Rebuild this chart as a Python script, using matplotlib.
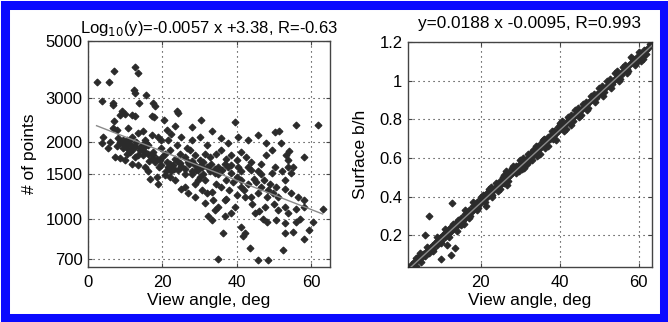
import matplotlib
matplotlib.use("Agg")
import matplotlib.pyplot as plt
from matplotlib.patches import Rectangle
import numpy as np

plt.rcParams["font.family"] = ["Liberation Sans", "DejaVu Sans"]

# linke Grafik: Anzahl Punkte vs. Blickwinkel (log-Achse)
points_pairs = [
    (2.3, 3460), (3.8, 2920), (5.7, 3440), (7.0, 3820), (6.6, 2860), (6.6, 2800),
    (12.6, 3960), (13.5, 3730), (12.4, 3215), (12.6, 3130), (15.5, 3080), (13.8, 2850),
    (17.5, 2850), (18.0, 2770), (9.0, 2650), (8.6, 2560), (9.9, 2580), (11.9, 2560),
    (12.6, 2540), (17.1, 2540), (17.8, 2525), (23.8, 2660), (24.2, 2600), (20.4, 2460),
    (7.1, 2420), (6.8, 2290), (7.7, 2240), (10.8, 2290), (30.4, 2460), (27.8, 2310),
    (39.4, 2400), (33.2, 2210), (23.4, 2330), (4.1, 2110), (3.7, 1990), (8.1, 2090),
    (9.0, 1990), (10.4, 2050), (11.7, 2110), (13.5, 2170), (14.8, 2220), (17.1, 2140),
    (18.9, 2110), (21.1, 2240), (22.4, 2160), (25.1, 2110), (27.8, 2050), (30.0, 2110),
    (35.8, 2080), (37.6, 1990), (40.3, 2110), (43.0, 2050), (45.6, 2140), (50.1, 2200),
    (51.4, 2220), (56.0, 2340), (61.7, 2340), (47.9, 1990), (51.9, 1990), (54.1, 1860),
    (58.1, 1760), (53.2, 1790), (53.7, 1710), (50.1, 1600), (53.7, 1600), (55.0, 1600),
    (7.2, 1760), (8.6, 1735), (7.7, 1930), (9.5, 1900), (11.3, 1840), (12.6, 1930),
    (14.1, 1870), (15.3, 1930), (16.2, 1810), (17.5, 1840), (18.4, 1730), (19.7, 1900),
    (20.6, 1810), (22.0, 1870), (23.4, 1730), (24.6, 1810), (26.0, 1760), (27.3, 1870),
    (28.7, 1790), (30.0, 1710), (31.3, 1810), (32.7, 1760), (34.5, 1810), (35.8, 1870),
    (37.1, 1730), (38.5, 1790), (41.2, 1840), (42.5, 1760), (43.8, 1680), (43.0, 1600),
    (45.6, 1540), (46.5, 1500), (47.4, 1425), (48.8, 1380), (50.5, 1340), (52.8, 1320),
    (54.6, 1265), (56.3, 1225), (58.1, 1190), (63.0, 1100), (58.1, 1120), (52.8, 1120),
    (48.0, 1225), (45.6, 1265), (43.8, 1225), (42.1, 1225), (41.2, 1340), (43.0, 1380),
    (39.9, 1470), (41.2, 1425), (38.5, 1513), (37.1, 1425), (35.8, 1340), (34.5, 1380),
    (33.2, 1285), (31.9, 1264), (33.6, 1190), (34.9, 1120), (34.0, 1090), (32.2, 1030),
    (33.2, 995), (36.7, 1030), (38.5, 1055), (39.4, 1120), (41.2, 935), (42.1, 880),
    (41.6, 860), (36.3, 885), (35.0, 700), (43.5, 770), (45.7, 692), (48.3, 692),
    (44.8, 1055), (48.0, 975), (50.5, 990), (52.8, 965), (52.8, 885), (52.4, 755),
    (55.1, 890), (56.0, 975), (58.1, 840), (59.4, 905), (60.5, 975), (53.7, 1055),
    (51.1, 1090), (47.5, 1120), (36.8, 1190), (31.4, 1160), (30.5, 1300), (28.7, 1225),
    (26.9, 1265), (26.0, 1340), (25.1, 1320), (23.4, 1425), (22.0, 1470), (20.7, 1490),
    (18.9, 1380), (16.6, 1445), (18.4, 1470), (16.2, 1540), (15.3, 1607), (13.5, 1630),
    (11.7, 1650), (9.9, 1710), (18.0, 1680), (19.7, 1630), (21.5, 1607), (22.4, 1540),
    (24.2, 1560), (26.0, 1580), (27.8, 1540), (29.6, 1560), (31.0, 1500), (29.6, 1425),
    (28.7, 1380), (27.8, 1500), (30.0, 1470), (31.4, 1425), (32.7, 1540), (34.0, 1513),
    (34.9, 1607), (36.8, 1650), (38.5, 1630), (39.9, 1710), (40.3, 1607), (43.8, 1560),
    (44.7, 1445), (46.5, 1340), (48.3, 1300), (49.6, 1264), (51.0, 1225), (52.8, 1425),
    (54.6, 1513), (52.0, 1540), (49.3, 1513), (46.5, 1650), (47.9, 1790), (49.3, 1870),
    (21.5, 2050), (19.7, 2050), (15.3, 2050), (15.7, 1990), (14.4, 1960), (10.8, 1990),
    (11.7, 1930), (10.4, 1900), (13.5, 1790), (14.8, 1790), (17.1, 1735), (19.3, 1707),
    (21.1, 1680), (22.9, 1630), (24.6, 1655), (26.9, 1680), (28.7, 1630), (30.5, 1607),
    (8.5, 2000), (9.5, 2050), (10.0, 1950), (11.0, 2020), (12.0, 1880), (13.0, 2000),
    (14.0, 1900), (15.0, 1850), (16.0, 1950), (16.5, 1700), (17.5, 1780), (19.0, 1600),
    (20.0, 1750), (21.0, 1550), (22.0, 1650), (23.0, 1580), (24.0, 1700), (25.0, 1620),
    (26.0, 1500), (27.0, 1650), (28.0, 1700), (29.0, 1560), (30.0, 1620), (31.0, 1680),
    (32.0, 1600), (33.0, 1650), (34.0, 1580), (35.0, 1500), (36.0, 1560), (37.5, 1600),
    (12.5, 1750), (10.5, 1800), (6.0, 2000), (5.5, 1900), (24.0, 1950), (26.5, 1900),
    (32.0, 1950), (38.0, 1300), (40.0, 1250), (42.0, 1300), (44.0, 1150), (46.0, 1080),
    (47.0, 1000), (50.0, 1150), (56.0, 1100), (57.0, 1000), (37.0, 1200), (39.0, 1400),
    (45.0, 1400), (41.0, 1550),
]
angle_left = [p[0] for p in points_pairs]
n_points = [p[1] for p in points_pairs]

# Fit links: log10(y) = a*x + b
fit_left_a = -0.0057
fit_left_b = 3.38

# rechte Grafik: Oberflaeche b/h vs. Blickwinkel
surface_pairs = [
    (1.6, 0.035), (2.5, 0.05), (3.0, 0.06), (4.0, 0.07), (4.5, 0.09), (5.0, 0.08),
    (5.5, 0.10), (6.0, 0.11), (6.5, 0.12), (7.0, 0.11), (7.5, 0.14), (8.0, 0.15),
    (8.0, 0.13), (8.5, 0.16), (9.0, 0.15), (9.0, 0.17), (9.5, 0.18), (10.0, 0.17),
    (10.0, 0.19), (10.5, 0.20), (11.0, 0.19), (11.0, 0.21), (11.5, 0.22), (12.0, 0.21),
    (12.0, 0.23), (12.5, 0.22), (12.5, 0.24), (13.0, 0.23), (13.0, 0.25), (13.5, 0.24),
    (14.0, 0.25), (14.0, 0.27), (14.5, 0.26), (15.0, 0.27), (15.0, 0.29), (15.5, 0.28),
    (16.0, 0.29), (16.0, 0.31), (16.5, 0.30), (17.0, 0.31), (17.0, 0.33), (17.5, 0.32),
    (18.0, 0.33), (18.0, 0.35), (18.5, 0.34), (19.0, 0.35), (19.0, 0.37), (19.5, 0.36),
    (20.0, 0.37), (20.0, 0.39), (20.5, 0.38), (21.0, 0.39), (21.0, 0.41), (21.5, 0.40),
    (22.0, 0.41), (22.0, 0.43), (22.5, 0.42), (23.0, 0.43), (23.0, 0.44), (23.5, 0.44),
    (24.0, 0.45), (24.5, 0.46), (25.0, 0.46), (25.0, 0.48), (25.5, 0.47), (26.0, 0.49),
    (26.0, 0.47), (26.5, 0.50), (27.0, 0.50), (27.0, 0.52), (27.5, 0.51), (28.0, 0.52),
    (28.0, 0.54), (28.5, 0.53), (29.0, 0.54), (29.0, 0.56), (29.5, 0.55), (30.0, 0.56),
    (30.0, 0.57), (30.5, 0.57), (31.0, 0.58), (31.0, 0.56), (31.5, 0.59), (32.0, 0.60),
    (32.0, 0.58), (32.5, 0.61), (33.0, 0.61), (33.0, 0.63), (33.5, 0.62), (34.0, 0.63),
    (34.5, 0.64), (34.5, 0.66), (35.0, 0.65), (35.5, 0.66), (35.5, 0.68), (36.0, 0.67),
    (36.5, 0.68), (37.0, 0.69), (37.0, 0.71), (37.5, 0.70), (38.0, 0.71), (38.5, 0.72),
    (38.5, 0.74), (39.0, 0.73), (39.5, 0.74), (40.0, 0.75), (40.0, 0.77), (40.5, 0.76),
    (41.0, 0.77), (41.5, 0.78), (42.0, 0.79), (42.5, 0.80), (43.0, 0.80), (43.5, 0.81),
    (44.0, 0.82), (44.5, 0.83), (45.0, 0.84), (45.5, 0.85), (46.0, 0.86), (46.5, 0.87),
    (47.0, 0.88), (47.5, 0.89), (48.0, 0.90), (48.5, 0.91), (49.0, 0.92), (49.5, 0.93),
    (50.0, 0.93), (50.5, 0.94), (51.0, 0.96), (51.5, 0.96), (52.0, 0.97), (52.5, 0.98),
    (53.0, 0.99), (53.5, 1.00), (54.0, 1.01), (54.5, 1.02), (55.0, 1.03), (55.5, 1.03),
    (56.0, 1.05), (57.0, 1.06), (57.5, 1.08), (58.0, 1.09), (58.5, 1.10), (59.0, 1.10),
    (59.5, 1.12), (60.0, 1.12), (60.5, 1.14), (61.0, 1.13), (62.0, 1.16), (63.4, 1.20),
    # Streuung um die Gerade
    (15.0, 0.25), (16.0, 0.33), (17.0, 0.29), (18.0, 0.37), (19.0, 0.33), (20.0, 0.40),
    (21.0, 0.37), (22.0, 0.44), (23.0, 0.41), (24.0, 0.47), (25.0, 0.44), (26.0, 0.51),
    (27.0, 0.48), (28.0, 0.55), (29.0, 0.52), (30.0, 0.59), (31.0, 0.55), (32.0, 0.62),
    (33.0, 0.59), (34.0, 0.66), (35.0, 0.62), (36.0, 0.70), (37.0, 0.66), (38.0, 0.74),
    (39.0, 0.69), (40.0, 0.78), (41.0, 0.74), (42.0, 0.81), (43.0, 0.77), (44.0, 0.85),
    (45.0, 0.81), (46.0, 0.88), (47.0, 0.85), (48.0, 0.92), (49.0, 0.89), (50.0, 0.96),
    (51.0, 0.92), (52.0, 1.00), (53.0, 0.96), (54.0, 1.04), (55.0, 1.00), (56.0, 1.07),
    (57.0, 1.04), (58.0, 1.12), (59.0, 1.08), (60.0, 1.15), (61.0, 1.11), (62.0, 1.14),
    (60.5, 1.10), (3.5, 0.04), (5.0, 0.06), (6.0, 0.09), (7.0, 0.13), (8.0, 0.12),
    (9.0, 0.19), (10.0, 0.16), (11.0, 0.23), (12.0, 0.19), (13.0, 0.26), (14.0, 0.22),
    (20.5, 0.41), (22.5, 0.45), (26.5, 0.53), (30.5, 0.54),
    (14.3, 0.28), (15.7, 0.26), (17.2, 0.30), (18.7, 0.36), (19.4, 0.34), (21.6, 0.42),
    (22.8, 0.40), (24.3, 0.43), (25.7, 0.50), (26.8, 0.46), (28.3, 0.56), (29.7, 0.53),
    (30.8, 0.60), (31.7, 0.57), (33.2, 0.64), (34.3, 0.61), (35.7, 0.69), (36.4, 0.65),
    (37.8, 0.72), (38.3, 0.70), (39.6, 0.76), (40.7, 0.79), (41.7, 0.75), (42.8, 0.82),
    (43.4, 0.79), (44.7, 0.86), (45.3, 0.82), (46.8, 0.89), (47.3, 0.86), (48.7, 0.93),
    (49.3, 0.91), (50.7, 0.97), (51.3, 0.94), (52.7, 1.01), (53.3, 0.98), (54.6, 1.05),
    (55.3, 1.01), (56.6, 1.08), (57.3, 1.05), (58.6, 1.11), (59.3, 1.09), (61.5, 1.16),
    (62.5, 1.17), (63.0, 1.19),
    # Ausreisser
    (7.0, 0.297), (5.9, 0.202), (9.4, 0.176), (11.5, 0.150), (13.6, 0.132), (12.4, 0.098),
    (9.9, 0.075), (12.8, 0.367), (21.3, 0.349), (6.5, 0.141), (3.5, 0.080), (4.7, 0.106),
]
angle_right = [p[0] for p in surface_pairs]
surface_bh = [p[1] for p in surface_pairs]

# Fit rechts: y = a*x + b
fit_right_a = 0.0188
fit_right_b = -0.0095

left_yticks = [700, 1000, 1500, 2000, 3000, 5000]
right_yticks = [0.2, 0.4, 0.6, 0.8, 1.0, 1.2]
right_yticklabels = ["0.2", "0.4", "0.6", "0.8", "1", "1.2"]

marker_color = "#2b2b2b"
line_color = "#8a8a8a"

fig = plt.figure(figsize=(6.68, 3.22), dpi=100)

ax1 = fig.add_axes([88 / 668, 55 / 322, 242 / 668, 226 / 322])
ax2 = fig.add_axes([408 / 668, 55 / 322, 244 / 668, 225 / 322])


def style_axes(ax):
    ax.grid(True, linestyle=(0, (1, 3.5)), color="#222222", linewidth=0.8)
    ax.tick_params(direction="in", top=True, right=True, length=3,
                   labelsize=12, color="#444444", pad=4)
    ax.tick_params(axis="x", pad=6)
    for s in ax.spines.values():
        s.set_color("#444444")
        s.set_linewidth(1.0)
    ax.minorticks_off()


# links
ax1.set_yscale("log")
ax1.plot(angle_left, n_points, "D", color=marker_color, ms=3.5, mew=0.8, zorder=3)
x_fit = np.array([min(angle_left), max(angle_left)])
ax1.plot(x_fit, 10 ** (fit_left_a * x_fit + fit_left_b), color=line_color, lw=1.0, zorder=4)
ax1.set_xlim(0, 65)
ax1.set_ylim(650, 5000)
ax1.set_xticks([0, 20, 40, 60])
ax1.set_yticks(left_yticks)
ax1.set_yticklabels([str(t) for t in left_yticks])
style_axes(ax1)
ax1.set_xlabel("View angle, deg", fontsize=12.5, labelpad=2)
ax1.set_ylabel("# of points", fontsize=12.5, labelpad=6)
ax1.set_title(r"Log$_{10}$(y)=-0.0057 x +3.38, R=-0.63", fontsize=12, pad=6)

# rechts
ax2.plot(angle_right, surface_bh, "D", color=marker_color, ms=3.5, mew=0.8, zorder=3)
x_fit2 = np.array([min(angle_right), max(angle_right)])
ax2.plot(x_fit2, fit_right_a * x_fit2 + fit_right_b, color=line_color, lw=1.0, zorder=4)
ax2.set_xlim(min(angle_right), max(angle_right))
ax2.set_ylim(min(surface_bh), max(surface_bh))
ax2.set_xticks([20, 40, 60])
ax2.set_yticks(right_yticks)
ax2.set_yticklabels(right_yticklabels)
style_axes(ax2)
ax2.set_xlabel("View angle, deg", fontsize=12.5, labelpad=2)
ax2.set_ylabel("Surface b/h", fontsize=12.5, labelpad=8)
ax2.set_title("y=0.0188 x -0.0095, R=0.993", fontsize=12.4, pad=10)

# blauer Rahmen
fig.patches.append(Rectangle((4.5 / 668, 4.5 / 322), 659 / 668, 313 / 322,
                             transform=fig.transFigure, fill=False,
                             edgecolor="#0a0aff", linewidth=6.5))

fig.savefig("out.png", dpi=100)
